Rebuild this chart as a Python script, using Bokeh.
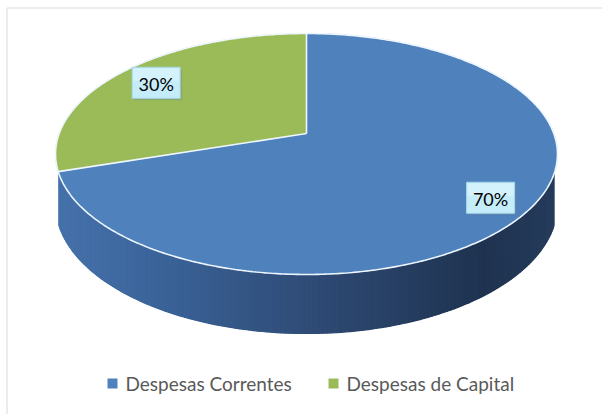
import numpy as np
from bokeh.plotting import figure
from bokeh.models import Range1d
from bokeh.core.properties import value
from bokeh.embed import file_html
from bokeh.resources import INLINE

# ---- data ----
categories = ["Despesas Correntes", "Despesas de Capital"]
shares = [70, 30]
labels = ["70%", "30%"]
top_colors = ["#4f81bd", "#9bbb59"]
wall_stops = [
    [(0.0, "#4672ab"), (0.2, "#3b649a"), (0.55, "#2d4871"), (0.85, "#1f3350"), (1.0, "#263c5c")],
    [(0.0, "#7d9c43"), (0.2, "#718e3b"), (0.55, "#5a732d"), (0.85, "#465a22"), (1.0, "#4d6327")],
]

W, H = 602, 414
p = figure(width=W, height=H, x_range=Range1d(0, W), y_range=Range1d(H, 0),
           output_backend="svg", toolbar_location=None, min_border=0)
p.axis.visible = False
p.grid.visible = False
p.outline_line_color = None
p.background_fill_color = "white"
p.border_fill_color = "white"

# chart-area border
p.quad(left=[6.5], right=[W + 5], top=[7.5], bottom=[H + 5], fill_color=None,
       line_color="#d9d9d9", line_width=1)

# ---- pie geometry (perspective projected disc) ----
CX, CY = 306.0, 133.0
A, B, K = 247.3, 117.0, 0.17
DEPTH = 49.0
WALL_VIS = -0.32   # wall drawn where sin(angle) is below this


def proj(t, r=1.0):
    u = r * np.cos(t)
    v = r * np.sin(t)
    d = 1 + K * v
    return CX + A * u / d, CY - B * v / d


def bottom(t):
    x, y = proj(t)
    return x, y + DEPTH / (1 + K * np.sin(t))


def hex2rgb(h):
    return np.array([int(h[i:i + 2], 16) for i in (1, 3, 5)], dtype=float)


def grad(stops, s):
    for (s0, c0), (s1, c1) in zip(stops[:-1], stops[1:]):
        if s <= s1:
            f = (s - s0) / (s1 - s0) if s1 > s0 else 0
            c = hex2rgb(c0) * (1 - f) + hex2rgb(c1) * f
            return "#%02x%02x%02x" % tuple(int(round(v)) for v in c)
    return stops[-1][1]


total = float(sum(shares))
start = np.pi / 2
bounds = []
cum = 0.0
for s in shares:
    t0 = start - cum / total * 2 * np.pi
    t1 = t0 - s / total * 2 * np.pi
    bounds.append((t0, t1))
    cum += s

xmin, xmax = CX - A / np.sqrt(1 - K * K), CX + A / np.sqrt(1 - K * K)

# side wall: solid base + gradient strips
for i, (t0, t1) in enumerate(bounds):
    ts = np.linspace(t0, t1, 600)
    vis = ts[np.sin(ts) < WALL_VIS]
    if len(vis) < 2:
        continue
    xt, yt = proj(vis)
    xb, yb = bottom(vis)
    p.patch(list(xt) + list(xb[::-1]), list(yt) + list(yb[::-1]),
            fill_color=grad(wall_stops[i], 0.5), line_color=None)
    ts2 = np.linspace(vis[0], vis[-1], 160)
    wx, wy, wc = [], [], []
    for a, b in zip(ts2[:-1], ts2[1:]):
        xa, ya = proj(a)
        xb_, yb_ = proj(b)
        xa2, ya2 = bottom(a)
        xb2, yb2 = bottom(b)
        wx.append([xa, xb_, xb2, xa2])
        wy.append([ya, yb_, yb2, ya2])
        sx = (0.5 * (xa + xb_) - xmin) / (xmax - xmin)
        wc.append(grad(wall_stops[i], min(max(sx, 0), 1)))
    p.patches(wx, wy, fill_color=wc, line_color=wc, line_width=1.2)

# top surface
for i, (t0, t1) in enumerate(bounds):
    ts = np.linspace(t0, t1, 300)
    xs, ys = proj(ts)
    px = [CX] + list(xs) + [CX]
    py = [CY] + list(ys) + [CY]
    p.patch(px, py, fill_color=top_colors[i], line_color=top_colors[i], line_width=0.5)

# edges
te = np.linspace(0, 2 * np.pi, 600)
ex, ey = proj(te)
p.line(list(ex), list(ey), line_color="#eef6ff", line_width=1.6)
for (t0, t1) in bounds:
    bx, by = proj(t0)
    p.line([CX, bx], [CY, by], line_color="#eef6ff", line_width=1.6)

# data labels
LR = 0.83
bw, bh = 48, 31
for i, (t0, t1) in enumerate(bounds):
    lx, ly = proj(0.5 * (t0 + t1), LR)
    lx += 3
    ly += 2
    p.quad(left=[lx - bw / 2 + 2], right=[lx + bw / 2 + 2], top=[ly - bh / 2 + 2],
           bottom=[ly + bh / 2 + 2], fill_color="#6f8796", fill_alpha=0.35, line_color=None)
    p.quad(left=[lx - bw / 2], right=[lx + bw / 2], top=[ly - bh / 2],
           bottom=[ly + bh / 2], fill_color="#c4ecf9", line_color="#a6d7e8", line_width=1)
    p.quad(left=[lx - bw / 2 + 1], right=[lx + bw / 2 - 1], top=[ly - bh / 2 + 1],
           bottom=[ly - 2], fill_color="#dcf5fd", line_color=None, fill_alpha=0.7)
    p.text([lx], [ly + 1], text=[labels[i]], text_font=value("Lato"), text_font_size="18px",
           text_align="center", text_baseline="middle", text_color="#000000")

# legend
leg_x = [112, 333]
leg_y = 383
for i, cat in enumerate(categories):
    p.rect([leg_x[i]], [leg_y], width=10, height=10, fill_color=top_colors[i], line_color=None)
    p.text([leg_x[i] + 13], [leg_y], text=[cat], text_font=value("Lato"), text_font_size="19px",
           text_align="left", text_baseline="middle", text_color="#595959")

open("out.html", "w").write(file_html(p, INLINE))
